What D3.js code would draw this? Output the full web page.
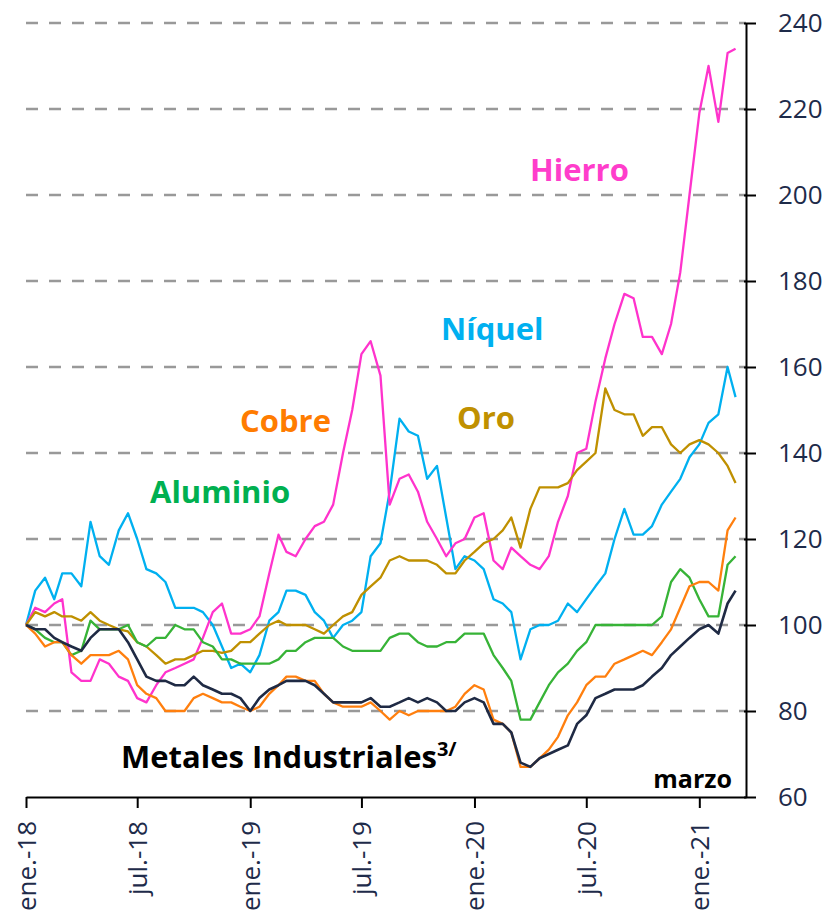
<!DOCTYPE html>
<html>
<head>
<meta charset="utf-8">
<script src="https://cdn.jsdelivr.net/npm/d3@7"></script>
<style>
  html, body { margin: 0; padding: 0; background: #fff; }
  svg { display: block; }
</style>
</head>
<body>
<svg id="chart" width="828" height="917"></svg>
<script>
// ---- DATA (semi-monthly readings, index 1-ene-2018 = 100) ----
const dates = [
  "2018-01-01","2018-01-16","2018-02-01","2018-02-16","2018-03-01","2018-03-16","2018-04-01","2018-04-16","2018-05-01","2018-05-16","2018-06-01","2018-06-16",
  "2018-07-01","2018-07-16","2018-08-01","2018-08-16","2018-09-01","2018-09-16","2018-10-01","2018-10-16","2018-11-01","2018-11-16","2018-12-01","2018-12-16",
  "2019-01-01","2019-01-16","2019-02-01","2019-02-16","2019-03-01","2019-03-16","2019-04-01","2019-04-16","2019-05-01","2019-05-16","2019-06-01","2019-06-16",
  "2019-07-01","2019-07-16","2019-08-01","2019-08-16","2019-09-01","2019-09-16","2019-10-01","2019-10-16","2019-11-01","2019-11-16","2019-12-01","2019-12-16",
  "2020-01-01","2020-01-16","2020-02-01","2020-02-16","2020-03-01","2020-03-16","2020-04-01","2020-04-16","2020-05-01","2020-05-16","2020-06-01","2020-06-16",
  "2020-07-01","2020-07-16","2020-08-01","2020-08-16","2020-09-01","2020-09-16","2020-10-01","2020-10-16","2020-11-01","2020-11-16","2020-12-01","2020-12-16",
  "2021-01-01","2021-01-16","2021-02-01","2021-02-16","2021-03-01"
];

const hierro = [100,104,103,105,106,89,87,87,92,91, 88,87,83,82,86,89,90,91,92,97,
  103,105,98,98,99,102,112,121,117,116, 120,123,124,128,140,150,163,166,158,128,
  134,135,131,124,120,116,119,120,125,126, 115,113,118,116,114,113,116,124,130,140,
  141,152,162,170,177,176,167,167,163,170, 182,200,219,230,217,233,234];

const niquel = [100,108,111,106,112,112,109,124,116,114, 122,126,120,113,112,110,104,104,104,103,
  100,95,90,91,89,93,101,103,108,108, 107,103,101,97,100,101,103,116,119,131,
  148,145,144,134,137,125,113,116,115,113, 106,105,103,92,99,100,100,101,105,103,
  106,109,112,120,127,121,121,123,128,131, 134,139,142,147,149,160,153];

const oro = [100,103,102,103,102,102,101,103,101,100, 99,98.5,96,95,93,91,92,92,93,94,
  94,93.5,94,96,96,98,100,101,100,100, 100,99,98,100,102,103,107,109,111,115,
  116,115,115,115,114,112,112,115,117,119, 120,122,125,118,127,132,132,132,133,136,
  138,140,155,150,149,149,144,146,146,142, 140,142,143,142,140,137,133];

const cobre = [100,98,95,96,96,93,91,93,93,93, 94,92,86,84,83,80,80,80,83,84,
  83,82,82,81,80,81,84,86,88,88, 87,87,84,82,81,81,81,82,80,78,
  80,79,80,80,80,80,81,84,86,85, 78,77,75,67,67,69,71,74,79,82,
  86,88,88,91,92,93,94,93,96,99, 104,109,110,110,108,122,125];

const aluminio = [100,99,97,96,96,93,94,101,99,99, 99,100,96,95,97,97,100,99,99,96,
  95,92,92,91,91,91,91,92,94,94, 96,97,97,97,95,94,94,94,94,97,
  98,98,96,95,95,96,96,98,98,98, 93,90,87,78,78,82,86,89,91,94,
  96,100,100,100,100,100,100,100,102,110, 113,111,106,102,102,114,116];

const metales = [100,99,99,97,96,95,94,97,99,99, 99,96,92,88,87,87,86,86,88,86,
  85,84,84,83,80,83,85,86,87,87, 87,86,84,82,82,82,82,83,81,81,
  82,83,82,83,82,80,80,82,83,82, 77,77,75,68,67,69,70,71,72,77,
  79,83,84,85,85,85,86,88,90,93, 95,97,99,100,98,105,108];

const yTicks = [60,80,100,120,140,160,180,200,220,240];
const xTickDates = ["2018-01-01","2018-07-01","2019-01-01","2019-07-01","2020-01-01","2020-07-01","2021-01-01"];
const xTickLabels = ["ene.-18","jul.-18","ene.-19","jul.-19","ene.-20","jul.-20","ene.-21"];
const xDomain = ["2018-01-01","2021-03-18"];

const seriesNames = ["Níquel","Hierro","Oro","Aluminio","Cobre","Metales Industriales"];
const seriesValues = [niquel, hierro, oro, aluminio, cobre, metales];
const seriesColors = ["#00B0F0","#FF33CC","#BF9000","#37B337","#FF7F0E","#1F2A44"];

// ---- CHART ----
(function () {
const parse = d3.timeParse("%Y-%m-%d");
const svg = d3.select("#chart");
const pL = 26, pR = 746, pT = 23, pB = 797;

const x = d3.scaleTime().domain(xDomain.map(parse)).range([pL, pR]);
const y = d3.scaleLinear().domain([60, 240]).range([pB, pT]);

const FONT = "'Open Sans', 'Noto Sans', sans-serif";
const TICKCOL = "#1E2B4A";

// gridlines
svg.append("g").selectAll("line")
  .data(yTicks.filter(v => v > 60))
  .join("line")
  .attr("x1", pL).attr("x2", pR)
  .attr("y1", d => y(d)).attr("y2", d => y(d))
  .attr("stroke", "#999999").attr("stroke-width", 2.3)
  .attr("stroke-dasharray", "12,11");

// lines
const line = d3.line()
  .x((d, i) => x(parse(dates[i])))
  .y(d => y(d));

svg.append("g").selectAll("path")
  .data(seriesValues)
  .join("path")
  .attr("d", d => line(d))
  .attr("fill", "none")
  .attr("stroke", (d, i) => seriesColors[i])
  .attr("stroke-width", (d, i) => i === 5 ? 2.6 : 2.3)
  .attr("stroke-linejoin", "round");

// x axis
const xAxis = d3.axisBottom(x)
  .tickValues(xTickDates.map(parse))
  .tickFormat((d, i) => xTickLabels[i])
  .tickSize(11)
  .tickSizeOuter(0);
const gx = svg.append("g").attr("transform", `translate(0,${pB})`).call(xAxis);
gx.select(".domain").attr("stroke", "#000").attr("stroke-width", 2);
gx.selectAll(".tick line").attr("stroke", "#000").attr("stroke-width", 2);
gx.selectAll(".tick text")
  .attr("font-family", FONT).attr("font-size", 26).attr("fill", TICKCOL)
  .attr("transform", "rotate(-90)")
  .attr("text-anchor", "end")
  .attr("x", -24).attr("y", 0).attr("dy", "0.36em");

// y axis (right)
const yAxis = d3.axisRight(y)
  .tickValues(yTicks)
  .tickSize(10)
  .tickPadding(22)
  .tickSizeOuter(0);
const gy = svg.append("g").attr("transform", `translate(${pR},0)`).call(yAxis);
gy.select(".domain").attr("stroke", "#000").attr("stroke-width", 2);
gy.selectAll(".tick line").attr("stroke", "#000").attr("stroke-width", 2).attr("x1", -2);
gy.selectAll(".tick text")
  .attr("font-family", FONT).attr("font-size", 26).attr("fill", TICKCOL);

// series labels
const labels = [
  {t: "Hierro",   x: 530, y: 181, c: "#FF3DCB"},
  {t: "Níquel",   x: 441, y: 340, c: "#00B0F0"},
  {t: "Oro",      x: 457, y: 429, c: "#C09000"},
  {t: "Cobre",    x: 240, y: 432, c: "#FF7C00"},
  {t: "Aluminio", x: 150, y: 503, c: "#00B050"}
];
svg.append("g").selectAll("text")
  .data(labels)
  .join("text")
  .attr("x", d => d.x).attr("y", d => d.y)
  .attr("font-family", FONT).attr("font-weight", 700).attr("font-size", 31)
  .attr("fill", d => d.c)
  .text(d => d.t);

const mt = svg.append("text")
  .attr("x", 121).attr("y", 768)
  .attr("font-family", FONT).attr("font-weight", 700).attr("font-size", 31)
  .attr("fill", "#000");
mt.append("tspan").text("Metales Industriales");
mt.append("tspan").attr("font-size", 20).attr("dy", -12).text("3/");

svg.append("text")
  .attr("x", 732).attr("y", 788)
  .attr("text-anchor", "end")
  .attr("font-family", FONT).attr("font-weight", 700).attr("font-size", 25)
  .attr("fill", "#000")
  .text("marzo");
})();
</script>
</body>
</html>
